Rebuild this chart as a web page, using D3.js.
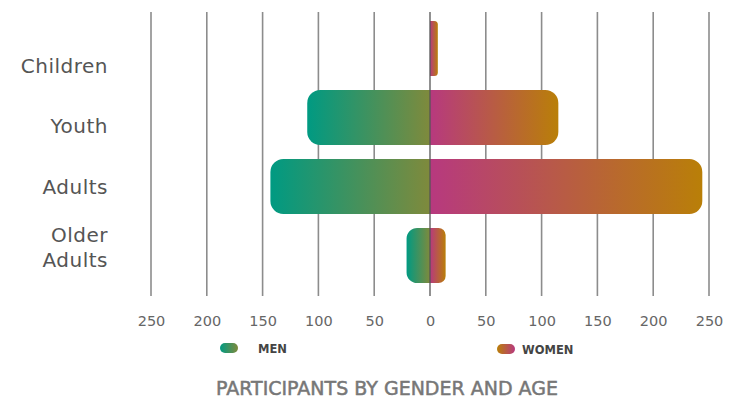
<html><head><meta charset="UTF-8"><title>Participants by gender and age</title>
<style>
  body, html { margin: 0; padding: 0; background: #fff; }
  svg { display: block; font-family: 'DejaVu Sans', sans-serif; }
</style>
</head>
<body>
<svg id="chart" width="732" height="398"></svg>
<script src="https://d3js.org/d3.v7.min.js"></script>
<script>
const categories = ["Children", "Youth", "Adults", "Older Adults"];
const men = [0, 110, 143, 21];
const women = [7, 115, 244, 14];
const tickValues = [-250, -200, -150, -100, -50, 0, 50, 100, 150, 200, 250];

const svg = d3.select("#chart");

const x = d3.scaleLinear().domain([-250, 250]).range([151, 709]);
const y = d3.scaleBand().domain(categories).range([14, 290]).paddingInner(0.2).paddingOuter(0.1);
const yLabel = d3.scalePoint().domain(categories).range([66, 247]);

const defs = svg.append("defs");
function grad(id, from, to) {
  const g = defs.append("linearGradient").attr("id", id)
    .attr("x1", "0%").attr("x2", "100%").attr("y1", "0%").attr("y2", "0%");
  g.append("stop").attr("offset", "0%").attr("stop-color", from);
  g.append("stop").attr("offset", "100%").attr("stop-color", to);
}
grad("men-grad", "#009a82", "#7f8a3c");
grad("women-grad", "#b7397f", "#b97f08");
grad("women-legend", "#b97f08", "#b7397f");

// grid lines
svg.append("g")
  .selectAll("line")
  .data(tickValues.filter(d => d !== 0))
  .enter().append("line")
  .attr("x1", d => x(d)).attr("x2", d => x(d))
  .attr("y1", 12).attr("y2", 296)
  .attr("stroke", "#8c8c8c")
  .attr("stroke-width", 1.6);

// bar with rounded outer corners only
function barPath(x0, x1, y0, h) {
  const w = Math.abs(x1 - x0);
  if (w === 0) return "";
  const r = Math.min(13, w / 2.2, h / 2);
  const dir = x1 > x0 ? 1 : -1;
  const sweep = dir > 0 ? 1 : 0;
  const xe = x1 - dir * r;
  return `M${x0},${y0}H${xe}` +
    `A${r},${r} 0 0 ${sweep} ${x1},${y0 + r}` +
    `V${y0 + h - r}` +
    `A${r},${r} 0 0 ${sweep} ${xe},${y0 + h}` +
    `H${x0}Z`;
}

const bars = svg.append("g");
categories.forEach((c, i) => {
  if (men[i] > 0) {
    bars.append("path")
      .attr("d", barPath(x(0), x(-men[i]), y(c), y.bandwidth()))
      .attr("fill", "url(#men-grad)");
  }
  if (women[i] > 0) {
    bars.append("path")
      .attr("d", barPath(x(0), x(women[i]), y(c), y.bandwidth()))
      .attr("fill", "url(#women-grad)");
  }
});

// zero line
svg.append("line")
  .attr("x1", x(0)).attr("x2", x(0))
  .attr("y1", 12).attr("y2", 296)
  .attr("stroke", "#555")
  .attr("stroke-width", 1.3);

// x axis labels
const axis = d3.axisBottom(x)
  .tickValues(tickValues)
  .tickSize(0)
  .tickPadding(0)
  .tickFormat(d => Math.abs(d));
const ax = svg.append("g").attr("transform", "translate(0,316)").call(axis);
ax.select(".domain").remove();
ax.selectAll("text")
  .attr("font-family", "'DejaVu Sans', sans-serif")
  .attr("font-size", 14.5)
  .attr("fill", "#666");

// category labels
const labels = svg.append("g");
categories.forEach(c => {
  const words = c.split(" ");
  const t = labels.append("text")
    .attr("x", 108)
    .attr("text-anchor", "end")
    .attr("font-size", 20)
    .attr("letter-spacing", 0.5)
    .attr("fill", "#555");
  const lh = 25;
  words.forEach((w, k) => {
    t.append("tspan")
      .attr("x", 108)
      .attr("y", yLabel(c) - (words.length - 1) * lh / 2 + k * lh)
      .attr("dy", "0.35em")
      .text(w);
  });
});

// legend
const legend = svg.append("g");
legend.append("rect").attr("x", 220).attr("y", 343).attr("width", 18).attr("height", 10).attr("rx", 5)
  .attr("fill", "url(#men-grad)");
legend.append("text").attr("x", 258).attr("y", 349).attr("dy", "0.35em")
  .attr("font-size", 11.5).attr("font-weight", "bold").attr("fill", "#444").text("MEN");
legend.append("rect").attr("x", 497).attr("y", 344).attr("width", 18).attr("height", 10).attr("rx", 5)
  .attr("fill", "url(#women-legend)");
legend.append("text").attr("x", 522).attr("y", 350).attr("dy", "0.35em")
  .attr("font-size", 11.5).attr("font-weight", "bold").attr("fill", "#444").text("WOMEN");

// title
svg.append("text")
  .attr("x", 387).attr("y", 388).attr("dy", "0.35em")
  .attr("text-anchor", "middle")
  .attr("font-size", 19)
  .attr("fill", "#777")
  .attr("stroke", "#777")
  .attr("stroke-width", 0.5)
  .text("PARTICIPANTS BY GENDER AND AGE");
</script>
</body></html>
